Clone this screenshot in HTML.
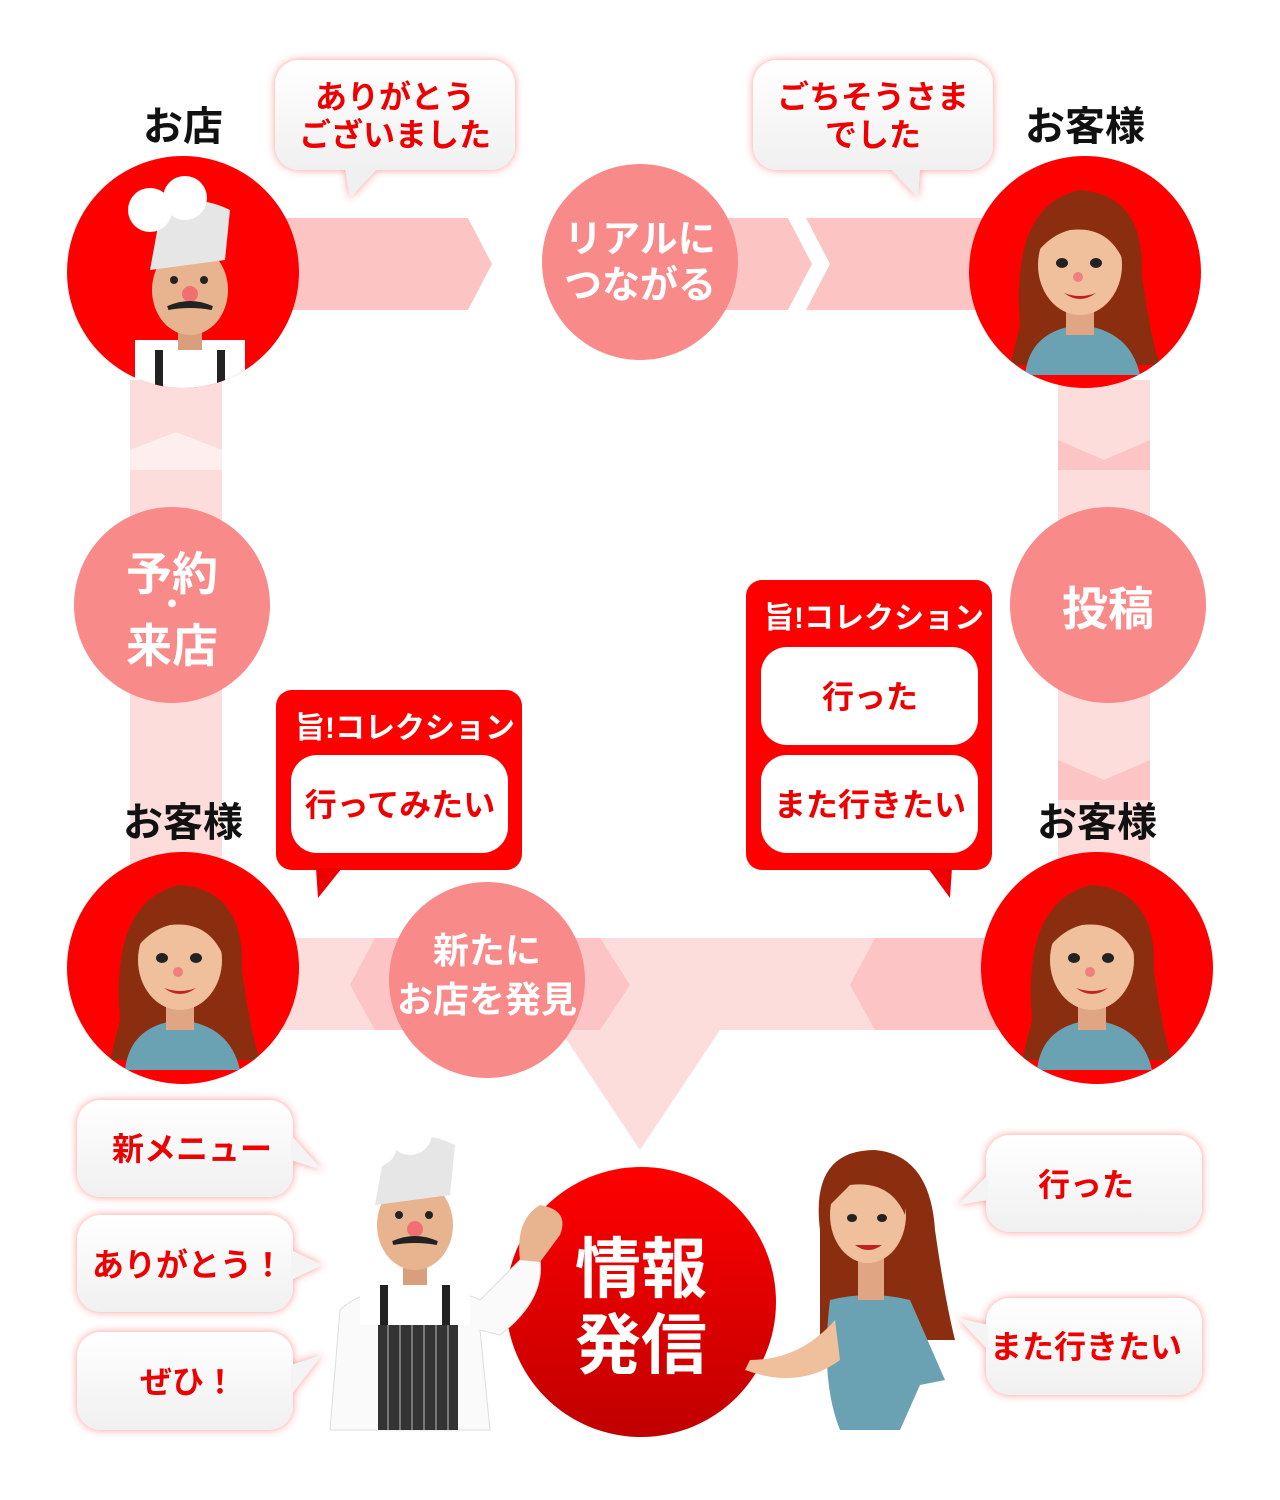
<!DOCTYPE html>
<html><head><meta charset="utf-8"><style>
html,body{margin:0;padding:0;background:#fff}
svg{display:block}
text{font-family:"Liberation Sans","Noto Sans CJK JP",sans-serif;font-weight:bold}
</style></head><body>
<svg width="1280" height="1500" viewBox="0 0 1280 1500" xmlns="http://www.w3.org/2000/svg">
<defs>
<filter id="glow" x="-30%" y="-30%" width="160%" height="160%">
<feGaussianBlur in="SourceAlpha" stdDeviation="8"/>
<feFlood flood-color="#ff4040" flood-opacity="0.55"/>
<feComposite operator="in" in2="SourceAlpha"/>
<feGaussianBlur stdDeviation="4"/>
<feMerge><feMergeNode/><feMergeNode in="SourceGraphic"/></feMerge>
</filter>
<linearGradient id="rg" x1="0" y1="0" x2="0" y2="1"><stop offset="0" stop-color="#ff0000"/><stop offset="1" stop-color="#c00000"/></linearGradient>
<linearGradient id="wb" x1="0" y1="0" x2="0" y2="1"><stop offset="0" stop-color="#fff"/><stop offset="1" stop-color="#f0f0f0"/></linearGradient>
<g id="woman">
<path d="M-60 60 Q-70 -60 0 -75 Q65 -70 62 10 Q70 70 80 100 L-70 100 Z" fill="#8b2e10"/>
<path d="M-55 110 Q-50 65 0 60 Q50 65 60 110 Z" fill="#6aa2b4"/>
<rect x="-14" y="30" width="28" height="40" fill="#e0a583"/>
<ellipse cx="0" cy="0" rx="42" ry="50" fill="#f0bf9b"/>
<path d="M-45 -10 Q-40 -60 10 -58 Q50 -50 45 0 Q30 -40 -10 -35 Q-30 -30 -45 -10Z" fill="#8b2e10"/>
<ellipse cx="-18" cy="-2" rx="6" ry="5" fill="#222"/><ellipse cx="16" cy="-2" rx="6" ry="5" fill="#222"/>
<circle cx="-2" cy="12" r="5" fill="#f08080"/>
<path d="M-16 28 Q0 40 16 28 Q0 34 -16 28Z" fill="#c02020"/>
</g>
<g id="chef">
<rect x="-55" y="60" width="110" height="50" fill="#fff"/>
<rect x="-35" y="70" width="8" height="40" fill="#222"/><rect x="27" y="70" width="8" height="40" fill="#222"/>
<rect x="-12" y="40" width="24" height="30" fill="#d99f7c"/>
<ellipse cx="0" cy="10" rx="38" ry="45" fill="#e8b490"/>
<path d="M-40 -10 L-30 -65 Q0 -90 40 -70 L35 -20 Z" fill="#e6e6e6"/>
<circle cx="-40" cy="-70" r="22" fill="#fff"/><circle cx="-5" cy="-82" r="22" fill="#fff"/>
<circle cx="-16" cy="0" r="4" fill="#222"/><circle cx="14" cy="0" r="4" fill="#222"/>
<circle cx="0" cy="14" r="8" fill="#f07070"/>
<path d="M-22 28 Q0 18 22 28 Q0 24 -22 28Z" fill="#222" stroke="#222" stroke-width="4"/>
</g>
</defs>

<!-- bands -->
<path d="M220 218 L468 218 L492 264 L468 310 L220 310 Z" fill="#fdc4c4"/>
<path d="M560 218 L788 218 L812 264 L788 310 L560 310 Z" fill="#fdc4c4"/>
<path d="M806 218 L990 218 L990 310 L806 310 L830 264 Z" fill="#fdc4c4"/>
<rect x="130" y="380" width="92" height="560" fill="#fddcdc"/>
<path d="M130 450 L176 432 L222 450 L222 470 L130 470Z" fill="#fff" opacity="0.5"/>
<rect x="1058" y="380" width="92" height="560" fill="#fddcdc"/>
<path d="M1058 440 L1104 460 L1150 440 L1150 470 L1058 470Z" fill="#fcc4c4"/>
<path d="M1058 760 L1104 780 L1150 760 L1150 800 L1058 800Z" fill="#fcc4c4"/>
<path d="M220 938 L1000 938 L1000 1030 L720 1030 L640 1150 L560 1030 L220 1030Z" fill="#fddcdc"/>
<path d="M350 985 L375 938 L600 938 L630 985 L600 1030 L375 1030 Z" fill="#fcc4c4"/>
<path d="M850 985 L875 938 L1000 938 L1000 1030 L875 1030 Z" fill="#fcc4c4"/>

<!-- pink circles -->
<circle cx="640" cy="262" r="98" fill="#f98a8a"/>
<text x="640" y="252" font-size="38" fill="#fff" text-anchor="middle">リアルに</text>
<text x="640" y="298" font-size="38" fill="#fff" text-anchor="middle">つながる</text>
<circle cx="172" cy="605" r="98" fill="#f98a8a"/>
<text x="172" y="590" font-size="46" fill="#fff" text-anchor="middle">予約</text>
<text x="172" y="615" font-size="30" fill="#fff" text-anchor="middle">・</text>
<text x="172" y="662" font-size="46" fill="#fff" text-anchor="middle">来店</text>
<circle cx="1108" cy="605" r="98" fill="#f98a8a"/>
<text x="1108" y="625" font-size="46" fill="#fff" text-anchor="middle">投稿</text>
<circle cx="487" cy="980" r="98" fill="#f98a8a"/>
<text x="487" y="963" font-size="36" fill="#fff" text-anchor="middle">新たに</text>
<text x="487" y="1012" font-size="36" fill="#fff" text-anchor="middle">お店を発見</text>

<!-- avatars -->
<g><clipPath id="c1"><circle cx="183" cy="272" r="116"/></clipPath>
<circle cx="183" cy="272" r="116" fill="#ff0000"/>
<g clip-path="url(#c1)"><use href="#chef" transform="translate(190,280)"/></g></g>
<g><clipPath id="c2"><circle cx="1085" cy="272" r="116"/></clipPath>
<circle cx="1085" cy="272" r="116" fill="#ff0000"/>
<g clip-path="url(#c2)"><use href="#woman" transform="translate(1080,265)"/></g></g>
<g><clipPath id="c3"><circle cx="183" cy="968" r="116"/></clipPath>
<circle cx="183" cy="968" r="116" fill="#ff0000"/>
<g clip-path="url(#c3)"><use href="#woman" transform="translate(180,960)"/></g></g>
<g><clipPath id="c4"><circle cx="1097" cy="968" r="116"/></clipPath>
<circle cx="1097" cy="968" r="116" fill="#ff0000"/>
<g clip-path="url(#c4)"><use href="#woman" transform="translate(1092,960)"/></g></g>

<text x="183" y="140" font-size="40" fill="#111" text-anchor="middle">お店</text>
<text x="1085" y="140" font-size="40" fill="#111" text-anchor="middle">お客様</text>
<text x="183" y="836" font-size="40" fill="#111" text-anchor="middle">お客様</text>
<text x="1097" y="836" font-size="40" fill="#111" text-anchor="middle">お客様</text>

<!-- top bubbles -->
<g filter="url(#glow)">
<rect x="275" y="60" width="240" height="110" rx="24" fill="url(#wb)"/>
<path d="M345 168 L350 198 L378 168Z" fill="#f0f0f0"/>
<rect x="753" y="60" width="240" height="110" rx="24" fill="url(#wb)"/>
<path d="M890 168 L918 198 L920 168Z" fill="#f0f0f0"/>
</g>
<text x="395" y="108" font-size="32" fill="#e00" text-anchor="middle">ありがとう</text>
<text x="395" y="146" font-size="32" fill="#e00" text-anchor="middle">ございました</text>
<text x="873" y="108" font-size="32" fill="#e00" text-anchor="middle">ごちそうさま</text>
<text x="873" y="146" font-size="32" fill="#e00" text-anchor="middle">でした</text>

<!-- collection boxes -->
<rect x="276" y="690" width="246" height="180" rx="16" fill="#f00"/>
<path d="M316 868 L318 898 L342 868Z" fill="#e00"/>
<text x="295" y="738" font-size="30" fill="#fff">旨!コレクション</text>
<rect x="291" y="755" width="217" height="98" rx="26" fill="#fff"/>
<text x="400" y="816" font-size="32" fill="#e00" text-anchor="middle">行ってみたい</text>

<rect x="746" y="580" width="246" height="290" rx="16" fill="#f00"/>
<path d="M928 868 L950 898 L952 868Z" fill="#e00"/>
<text x="764" y="628" font-size="30" fill="#fff">旨!コレクション</text>
<rect x="761" y="647" width="217" height="98" rx="26" fill="#fff"/>
<text x="870" y="708" font-size="32" fill="#e00" text-anchor="middle">行った</text>
<rect x="761" y="755" width="217" height="98" rx="26" fill="#fff"/>
<text x="870" y="816" font-size="32" fill="#e00" text-anchor="middle">また行きたい</text>

<!-- bottom bubbles -->
<g filter="url(#glow)">
<rect x="77" y="1100" width="216" height="97" rx="24" fill="url(#wb)"/>
<path d="M291 1135 L322 1170 L291 1160Z" fill="#f4f4f4"/>
<rect x="77" y="1215" width="216" height="97" rx="24" fill="url(#wb)"/>
<path d="M291 1250 L322 1265 L291 1280Z" fill="#f4f4f4"/>
<rect x="77" y="1332" width="216" height="98" rx="24" fill="url(#wb)"/>
<path d="M291 1365 L322 1355 L291 1395Z" fill="#f4f4f4"/>
<rect x="986" y="1135" width="216" height="97" rx="24" fill="url(#wb)"/>
<path d="M988 1175 L958 1205 L988 1200Z" fill="#f4f4f4"/>
<rect x="986" y="1298" width="216" height="97" rx="24" fill="url(#wb)"/>
<path d="M988 1325 L958 1318 L988 1350Z" fill="#f4f4f4"/>
</g>
<text x="192" y="1160" font-size="32" fill="#e00" text-anchor="middle">新メニュー</text>
<text x="188" y="1276" font-size="32" fill="#e00" text-anchor="middle">ありがとう！</text>
<text x="188" y="1393" font-size="32" fill="#e00" text-anchor="middle">ぜひ！</text>
<text x="1086" y="1196" font-size="32" fill="#e00" text-anchor="middle">行った</text>
<text x="1086" y="1358" font-size="32" fill="#e00" text-anchor="middle">また行きたい</text>

<!-- 情報発信 -->
<circle cx="641" cy="1302" r="135" fill="url(#rg)"/>
<text x="641" y="1292" font-size="66" fill="#fff" text-anchor="middle">情報</text>
<text x="641" y="1368" font-size="66" fill="#fff" text-anchor="middle">発信</text>

<!-- chef full -->
<path d="M330 1430 L340 1310 Q360 1290 410 1285 Q460 1290 480 1300 L520 1260 L540 1260 Q545 1300 500 1335 L480 1330 L490 1430 Z" fill="#fafafa" stroke="#ddd"/>
<rect x="378" y="1305" width="80" height="125" fill="#333"/>
<g stroke="#777" stroke-width="2"><line x1="388" y1="1310" x2="388" y2="1430"/><line x1="400" y1="1310" x2="400" y2="1430"/><line x1="412" y1="1310" x2="412" y2="1430"/><line x1="424" y1="1310" x2="424" y2="1430"/><line x1="436" y1="1310" x2="436" y2="1430"/><line x1="448" y1="1310" x2="448" y2="1430"/></g>
<path d="M520 1260 Q515 1220 540 1205 Q570 1210 560 1235 L540 1262Z" fill="#e8b490"/>
<use href="#chef" transform="translate(415,1215)"/>

<!-- woman full -->
<path d="M820 1230 Q810 1150 875 1150 Q930 1155 935 1230 Q945 1300 955 1340 L820 1340 Z" fill="#8b2e10"/>
<path d="M830 1300 Q870 1290 910 1300 L945 1380 L920 1385 L900 1430 L840 1430 Q820 1380 830 1300Z" fill="#6aa2b4"/>
<path d="M835 1320 Q800 1360 750 1360 L745 1370 Q800 1390 840 1360Z" fill="#f0bf9b"/>
<rect x="858" y="1250" width="26" height="50" fill="#e0a583"/>
<ellipse cx="868" cy="1215" rx="38" ry="48" fill="#f0bf9b"/>
<path d="M830 1205 Q830 1160 875 1160 Q910 1165 905 1215 Q890 1180 850 1185Z" fill="#8b2e10"/>
<ellipse cx="852" cy="1218" rx="5" ry="4" fill="#222"/><ellipse cx="882" cy="1218" rx="5" ry="4" fill="#222"/>
<path d="M855 1245 Q868 1255 882 1245Z" fill="#c02020"/>
</svg>
</body></html>
